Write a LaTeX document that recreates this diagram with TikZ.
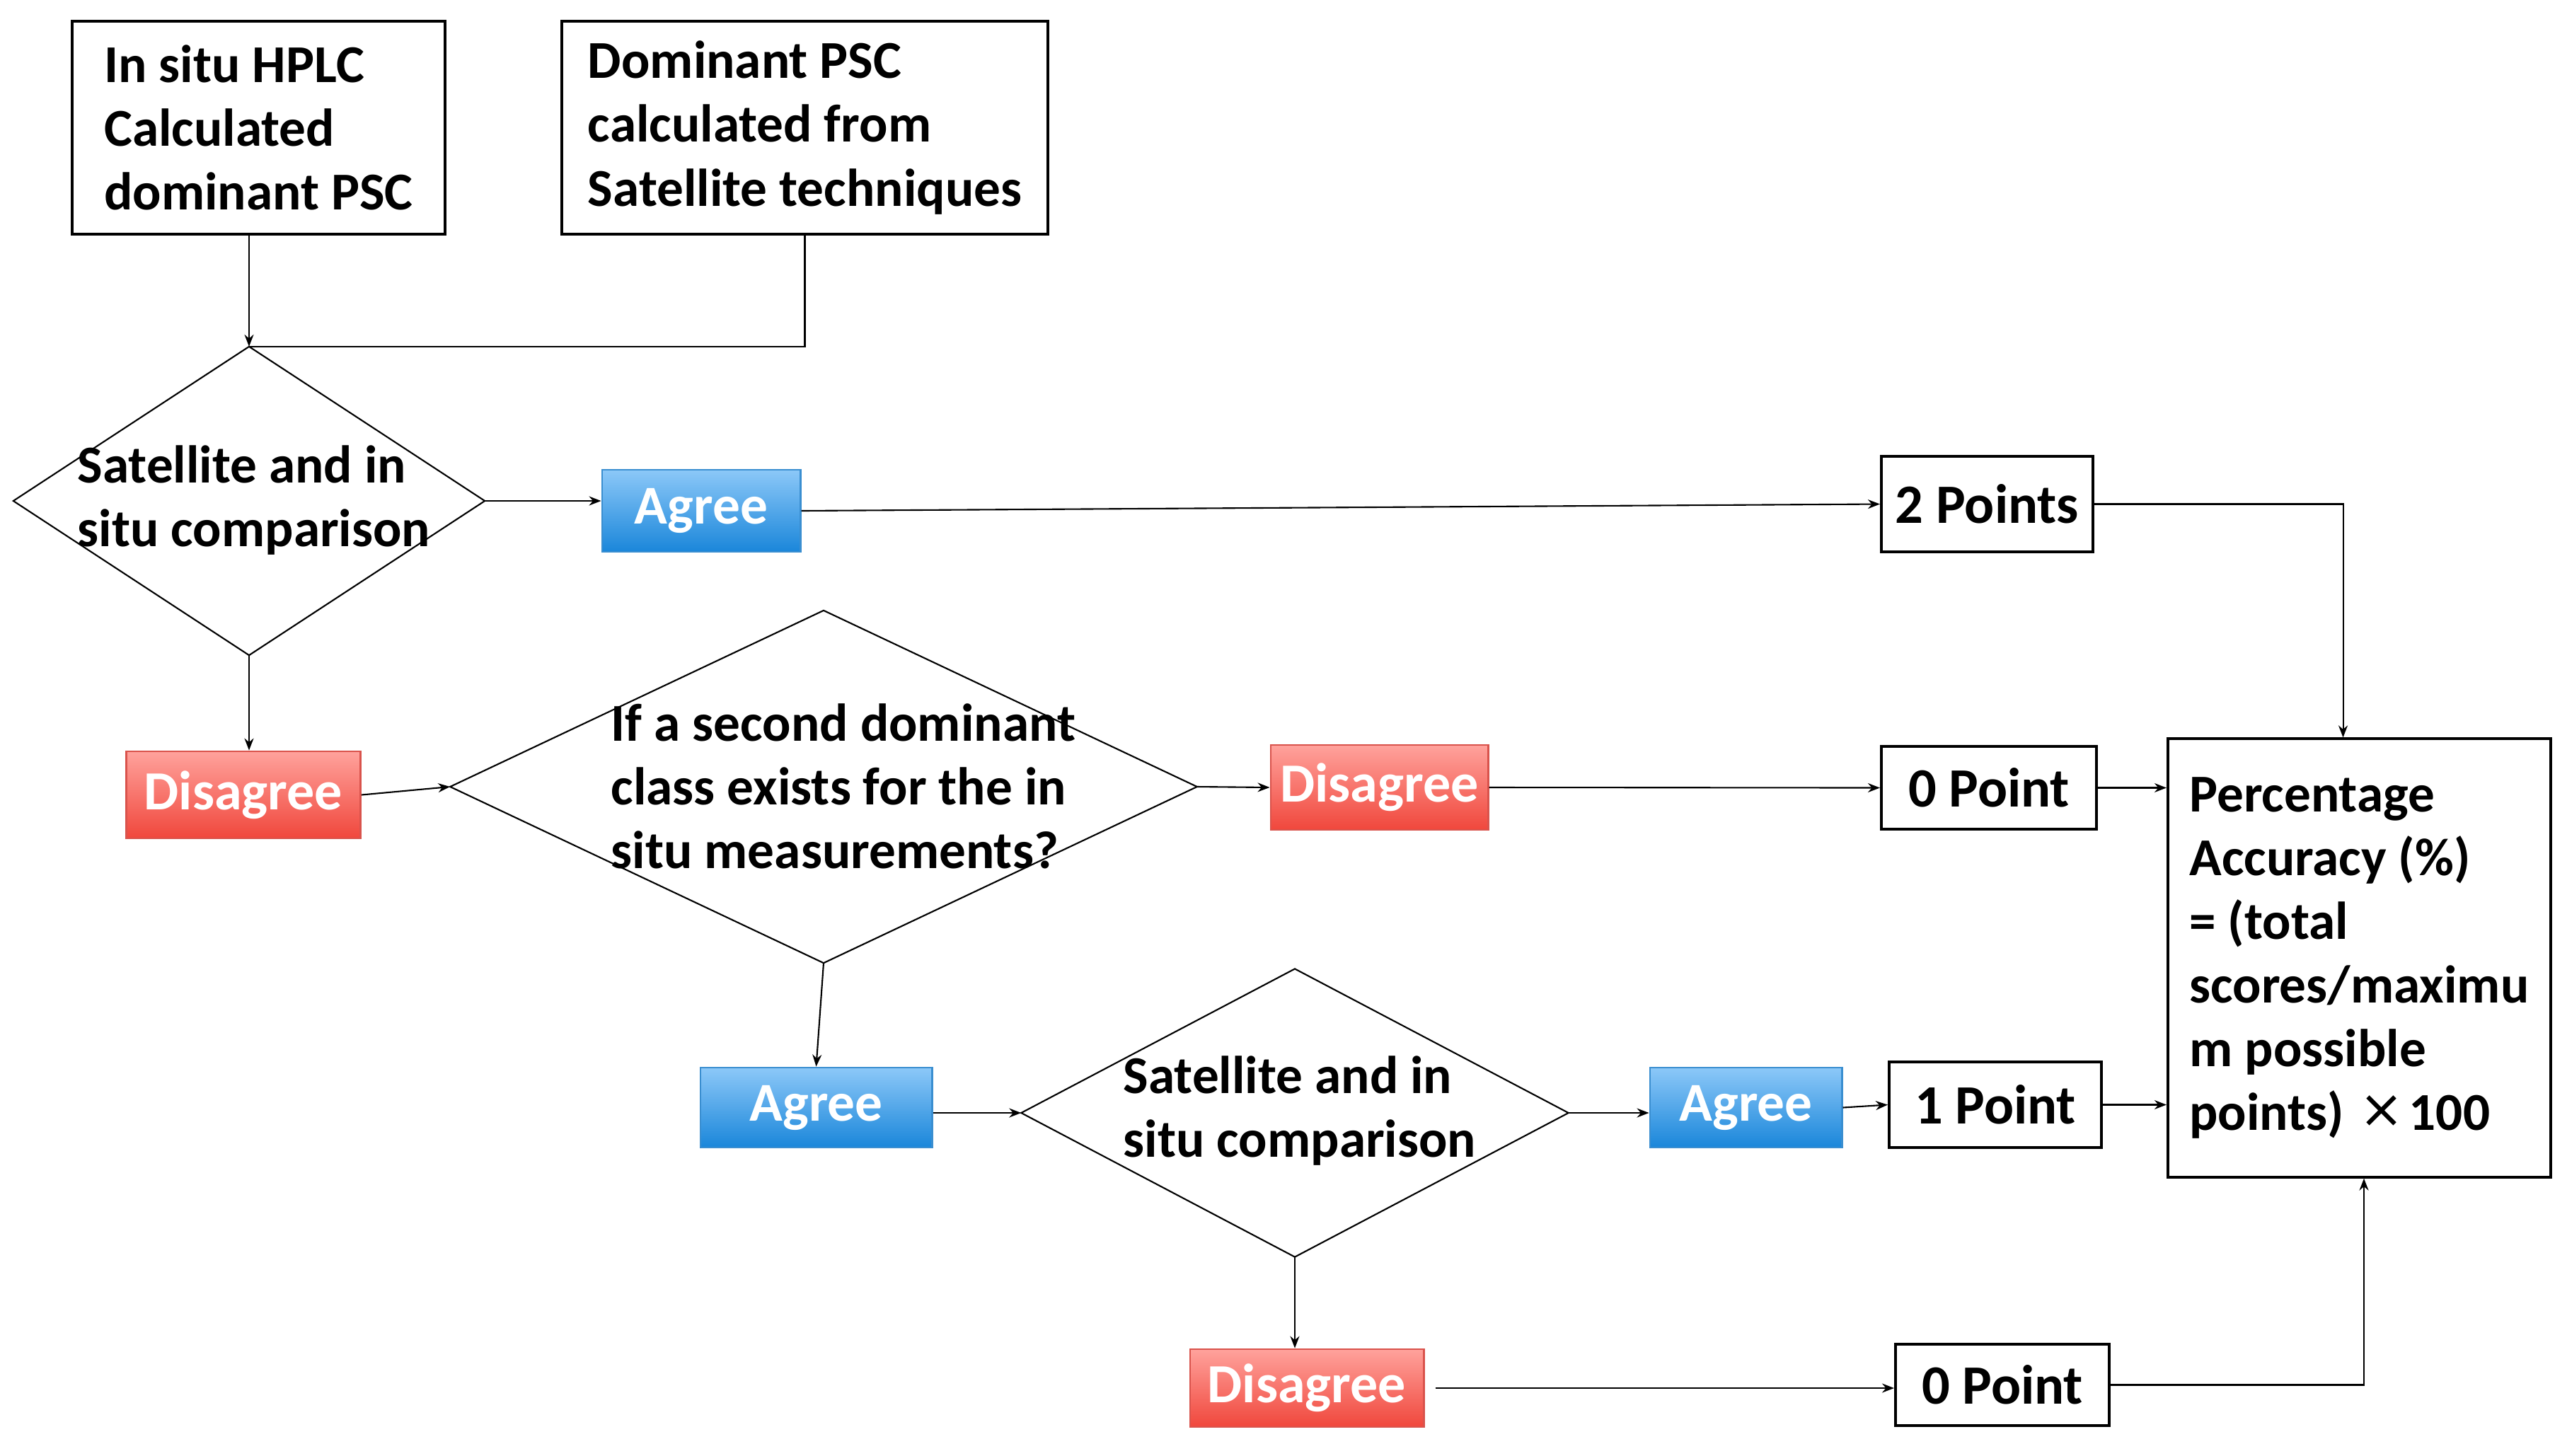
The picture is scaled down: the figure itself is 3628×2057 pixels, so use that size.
\documentclass[tikz,border=0pt]{standalone}
\usepackage{fontspec}
\setmainfont{Carlito}
\newfontfamily\dejavu{DejaVu Sans}
\usetikzlibrary{shapes.geometric,arrows.meta,calc}
\definecolor{agtop}{HTML}{8CC8F8}
\definecolor{agbot}{HTML}{1A86DA}
\definecolor{agline}{HTML}{3A8ED0}
\definecolor{distop}{HTML}{FFA29C}
\definecolor{disbot}{HTML}{F0473C}
\definecolor{disline}{HTML}{D9534C}
\begin{document}
\begin{tikzpicture}[x=0.01cm,y=-0.01cm,
  every node/.style={font=\fontsize{21.4}{25.6}\selectfont\bfseries},
  txtbox/.style={draw=black,line width=1.1pt,fill=white,inner sep=0pt,align=left},
  ptbox/.style={draw=black,line width=1.1pt,fill=white,inner sep=0pt,font=\fontsize{22.3}{26}\selectfont\bfseries},
  dia/.style={diamond,draw=black,line width=0.6pt,inner sep=0pt,outer sep=0pt},
  agreebox/.style={top color=agtop,bottom color=agbot,draw=agline,line width=0.8pt,text=white,inner sep=0pt,font=\fontsize{22}{26}\selectfont\bfseries},
  disbox/.style={top color=distop,bottom color=disbot,draw=disline,line width=0.8pt,text=white,inner sep=0pt,font=\fontsize{22.2}{26}\selectfont\bfseries},
  dtext/.style={align=left,anchor=west,inner sep=0pt},
  arr/.style={line width=0.6pt,-{Stealth[length=0.17cm,width=0.13cm]}},
  link/.style={line width=0.6pt}
]
\useasboundingbox (0,0) rectangle (3628,2057);
\node[txtbox,minimum width=5.27cm,minimum height=3.01cm] (hplc) at (365.5,180.5) {In situ HPLC\\Calculated\\dominant PSC};
\node[txtbox,minimum width=6.87cm,minimum height=3.01cm] (sat) at (1137.5,180.5) {Dominant PSC\\calculated from\\Satellite techniques};
\node[dia,minimum width=6.66cm,minimum height=4.36cm] (d1) at (352,708) {};
\node[dtext] (d1t) at (109,707) {Satellite and in\\situ comparison};
\node[agreebox,minimum width=2.80cm,minimum height=1.16cm] (ag1) at (991,722) {Agree};
\node[ptbox,minimum width=2.99cm,minimum height=1.35cm] (p2) at (2808.5,712.5) {2 Points};
\node[disbox,minimum width=3.31cm,minimum height=1.23cm] (dis1) at (344,1123.5) {Disagree};
\node[dia,minimum width=10.55cm,minimum height=4.98cm] (d2) at (1164,1112) {};
\node[dtext] (d2t) at (863,1111) {If a second dominant\\class exists for the in\\situ measurements?};
\node[disbox,minimum width=3.07cm,minimum height=1.20cm] (dis2) at (1949.5,1113) {Disagree};
\node[ptbox,minimum width=3.04cm,minimum height=1.17cm] (p0a) at (2811,1113.5) {0 Point};
\node[txtbox,minimum width=5.41cm,minimum height=6.19cm] (perc) at (3334.5,1354) {Percentage\\Accuracy (\%)\\= (total\\scores/maximu\\m possible\\points)\hspace{0.28em}{\dejavu\mdseries\raisebox{0.06em}{×}}\hspace{0.1em}100};
\node[agreebox,minimum width=3.27cm,minimum height=1.13cm] (ag2) at (1153.5,1565.5) {Agree};
\node[dia,minimum width=7.73cm,minimum height=4.07cm] (d3) at (1830,1573) {};
\node[dtext] (d3t) at (1587,1570) {Satellite and in\\situ comparison};
\node[agreebox,minimum width=2.71cm,minimum height=1.13cm] (ag3) at (2467.5,1565.5) {Agree};
\node[ptbox,minimum width=3.00cm,minimum height=1.21cm] (p1) at (2820,1561.5) {1 Point};
\node[disbox,minimum width=3.30cm,minimum height=1.10cm] (dis3) at (1847,1962) {Disagree};
\node[ptbox,minimum width=3.02cm,minimum height=1.15cm] (p0b) at (2830,1957.5) {0 Point};

\draw[arr] (d1.north |- hplc.south) -- (d1.north);
\draw[link] (sat.south) |- (d1.north);
\draw[arr] (d1.east) -- (ag1.west |- d1.east);
\draw[arr] (ag1.east) -- (p2.west);
\draw[arr] (p2.east) -| ($(perc.north)+(-23,0)$);
\draw[arr] (d1.south) -- (dis1.north -| d1.south);
\draw[arr] (dis1.east) -- (d2.west);
\draw[arr] (d2.east) -- (dis2.west);
\draw[arr] (dis2.east) -- (p0a.west);
\draw[arr] (p0a.east) -- (p0a.east -| perc.west);
\draw[arr] (d2.south) -- (ag2.north);
\draw[arr] (ag2.east |- d3.west) -- (d3.west);
\draw[arr] (d3.east) -- (ag3.west |- d3.east);
\draw[arr] (ag3.east) -- (p1.west);
\draw[arr] (p1.east) -- (p1.east -| perc.west);
\draw[arr] (d3.south) -- (d3.south |- dis3.north);
\draw[arr] ($(dis3.east)+(15,0)$) -- (p0b.west |- dis3.east);
\draw[arr] (p0b.east) -| ($(perc.south)+(6.5,0)$);
\end{tikzpicture}
\end{document}
